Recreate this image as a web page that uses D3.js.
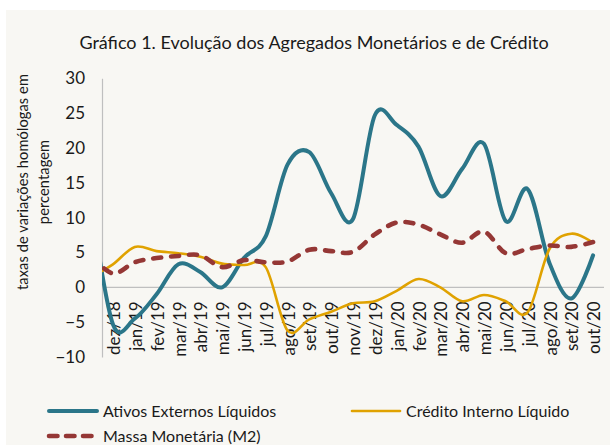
<!DOCTYPE html>
<html><head><meta charset="utf-8">
<script src="https://cdn.jsdelivr.net/npm/d3@7"></script>
<style>body{margin:0;background:#fff}svg{display:block}text{font-family:Lato,"Open Sans",sans-serif;fill:#1a1a1a}</style>
</head><body>
<svg id="c" width="610" height="445"></svg>
<script>
// ---- data ----
// first category (nov/18) is only partially visible: it lies left of the plot area and is clipped
const months = ["nov/18","dez/18","jan/19","fev/19","mar/19","abr/19","mai/19","jun/19","jul/19","ago/19","set/19","out/19","nov/19","dez/19","jan/20","fev/20","mar/20","abr/20","mai/20","jun/20","jul/20","ago/20","set/20","out/20"];
const ativosExternos = [12, -5.3, -4.5, -1.0, 3.3, 2.2, 0.0, 4.2, 7.3, 17.6, 19.4, 13.5, 9.8, 24.7, 23.3, 20.2, 13.1, 17.0, 20.6, 9.5, 14.1, 3.5, -1.6, 4.6];
const creditoInterno = [1.5, 3.3, 5.8, 5.2, 4.9, 4.4, 3.4, 3.2, 2.9, -6.2, -4.6, -3.5, -2.3, -2.0, -0.5, 1.2, 0.0, -2.0, -1.1, -2.0, -3.6, 5.5, 7.7, 6.4];
const massaMonetaria = [4.5, 2.0, 3.6, 4.2, 4.5, 4.6, 2.9, 3.9, 3.6, 3.7, 5.4, 5.2, 5.1, 7.6, 9.3, 9.0, 7.6, 6.4, 8.0, 4.9, 5.5, 6.0, 5.8, 6.5];
const seriesNames = ["Ativos Externos Líquidos", "Crédito Interno Líquido", "Massa Monetária (M2)"];
const yTicks = [-10, -5, 0, 5, 10, 15, 20, 25, 30];
const titleText = "Gráfico 1. Evolução dos Agregados  Monetários e de Crédito";
const yTitleLines = ["taxas de variações homólogas em", "percentagem"];

// ---- layout ----
const W = 610, H = 445;
const plotLeft = 102, plotRight = 604, yTop = 78.3, yBottom = 357;
const svg = d3.select("#c");
svg.append("rect").attr("x", 6).attr("y", 10).attr("width", W - 6).attr("height", H - 10).attr("fill", "#f8f7f3");

const step = (plotRight - plotLeft) / (months.length - 1);
const x = d3.scaleBand().domain(months).range([plotLeft - step, plotRight]);
const cx = m => x(m) + x.bandwidth() / 2;
const y = d3.scaleLinear().domain([-10, 30]).range([yBottom, yTop]);

// title
svg.append("text").attr("x", 314).attr("y", 49).attr("text-anchor", "middle")
  .style("font-size", "18px").text(titleText);

// y axis
const ya = svg.append("g").attr("transform", `translate(${plotLeft},0)`)
  .call(d3.axisLeft(y).tickValues(yTicks).tickSize(0).tickPadding(17).tickFormat(d3.format("d")));
ya.select(".domain").attr("stroke", "#bfbfbf").attr("stroke-width", 1.2);
ya.selectAll("text").style("font-size", "17px").style("font-family", "Lato").attr("fill", "#1a1a1a");

// zero line
svg.append("line").attr("x1", plotLeft).attr("x2", plotRight).attr("y1", y(0)).attr("y2", y(0))
  .attr("stroke", "#bfbfbf").attr("stroke-width", 1.2);

// x axis labels
const xa = svg.append("g").attr("transform", `translate(0,${y(0)})`)
  .call(d3.axisBottom(x).tickValues(months.slice(1)).tickSize(0));
xa.select(".domain").remove();
xa.selectAll("text").attr("transform", "rotate(-90)").attr("x", -14).attr("y", 0).attr("dy", "0.42em")
  .style("text-anchor", "end").style("font-size", "17px").style("font-family", "Lato").attr("fill", "#1a1a1a");

// y axis title
yTitleLines.forEach((t, i) => {
  svg.append("text").attr("transform", `translate(${28 + i * 21},182) rotate(-90)`)
    .attr("text-anchor", "middle").style("font-size", "14.6px").style("letter-spacing", "0.1px").text(t);
});

// lines
svg.append("clipPath").attr("id", "plotclip").append("rect")
  .attr("x", plotLeft).attr("y", 0).attr("width", plotRight - plotLeft + 6).attr("height", H);
const styles = [
  {color: "#2b7689", width: 4, dash: null},
  {color: "#e0a200", width: 2.6, dash: null},
  {color: "#953735", width: 4.6, dash: "8,10"}
];
const allSeries = [ativosExternos, creditoInterno, massaMonetaria];
const line = d3.line().x(d => cx(d.m)).y(d => y(d.v)).curve(d3.curveCardinal.tension(0));
const gl = svg.append("g").attr("clip-path", "url(#plotclip)");
allSeries.forEach((s, i) => {
  const pts = months.map((m, j) => ({m, v: s[j]}));
  const p = gl.append("path").attr("d", line(pts)).attr("fill", "none")
    .attr("stroke", styles[i].color).attr("stroke-width", styles[i].width)
    .attr("stroke-linejoin", "round").attr("stroke-linecap", "round");
  if (styles[i].dash) p.attr("stroke-dasharray", styles[i].dash);
});

// legend
const legendPos = [{x: 47, y: 411}, {x: 350, y: 411}, {x: 47, y: 436}];
seriesNames.forEach((n, i) => {
  const g = svg.append("g").attr("transform", `translate(${legendPos[i].x},${legendPos[i].y})`);
  const l = g.append("line").attr("x1", 2).attr("x2", 50).attr("y1", 0).attr("y2", 0)
    .attr("stroke", styles[i].color).attr("stroke-width", styles[i].width).attr("stroke-linecap", "round");
  if (styles[i].dash) l.attr("stroke-dasharray", "8.5,8.5");
  g.append("text").attr("x", 56).attr("y", 0).attr("dy", "0.35em").style("font-size", "16px").text(n);
});
</script>
</body></html>
